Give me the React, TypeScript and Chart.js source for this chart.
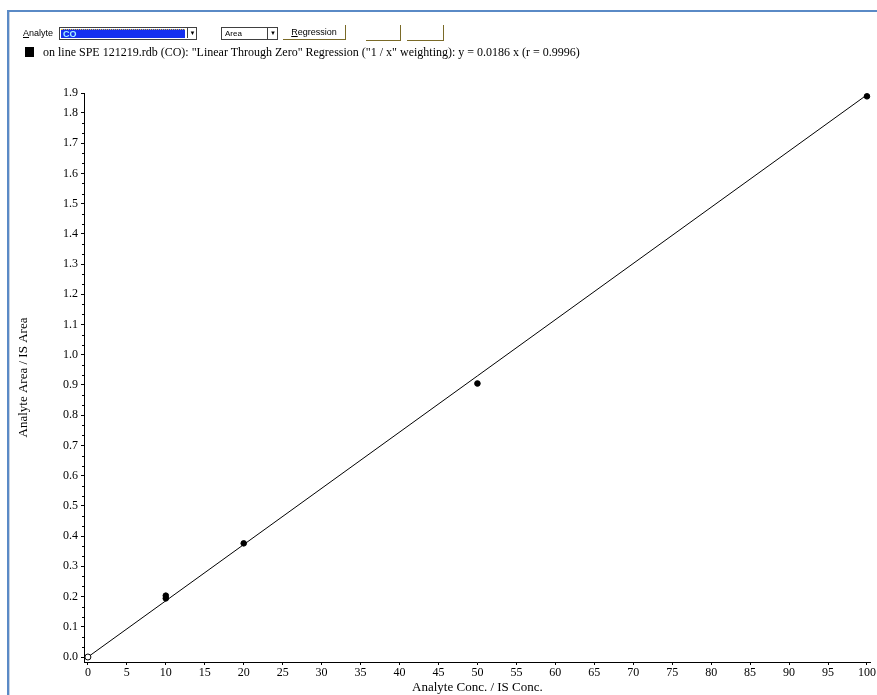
import React, { useEffect, useRef } from 'react';
import { Chart, registerables } from 'chart.js';

Chart.register(...registerables);

// Calibration points
const pointX = [10, 10, 20, 50, 100];
const pointY = [0.194, 0.203, 0.376, 0.905, 1.855];
// Blank / origin point (open marker)
const blankX = [0];
const blankY = [0];
// Regression line y = 0.0186 x
const fitX = [0, 100];
const fitY = [0, 1.86];

const xTicks = [0, 5, 10, 15, 20, 25, 30, 35, 40, 45, 50, 55, 60, 65, 70, 75, 80, 85, 90, 95, 100];
const yTicks = [0, 0.1, 0.2, 0.3, 0.4, 0.5, 0.6, 0.7, 0.8, 0.9, 1.0, 1.1, 1.2, 1.3, 1.4, 1.5, 1.6, 1.7, 1.8];
const yTopTickLabel = '1.9';

const X_MIN = -0.5;
const X_MAX = 100.5;
const Y_MIN = -0.0165;
const Y_MAX = 1.866;

const legendText =
  'on line SPE 121219.rdb (CO): "Linear Through Zero" Regression ("1 / x" weighting): y = 0.0186 x (r = 0.9996)';
const xTitle = 'Analyte Conc. / IS Conc.';
const yTitle = 'Analyte Area / IS Area';

const serif = '"Liberation Serif", "Times New Roman", serif';
const sans = '"Liberation Sans", Arial, sans-serif';

const minorTickPlugin = {
  id: 'minorTicks',
  afterDraw(chart: any) {
    const ys = chart.scales.y;
    const ctx = chart.ctx;
    ctx.save();
    ctx.strokeStyle = '#000';
    ctx.lineWidth = 1;
    for (let i = 0; i + 1 < yTicks.length; i++) {
      const a = yTicks[i];
      const b = yTicks[i + 1];
      for (let k = 1; k < 3; k++) {
        const v = a + ((b - a) * k) / 3;
        const py = Math.round(ys.getPixelForValue(v)) + 0.5;
        ctx.beginPath();
        ctx.moveTo(ys.right - 2, py);
        ctx.lineTo(ys.right, py);
        ctx.stroke();
      }
    }
    ctx.restore();
  },
};

function ChartCanvas() {
  const ref = useRef<HTMLCanvasElement | null>(null);
  useEffect(() => {
    if (!ref.current) return;
    const chart = new Chart(ref.current, {
      type: 'scatter',
      data: {
        datasets: [
          {
            label: 'fit',
            data: fitX.map((x, i) => ({ x, y: fitY[i] })),
            showLine: true,
            borderColor: '#000',
            borderWidth: 1,
            pointRadius: 0,
            order: 3,
          },
          {
            label: 'blank',
            data: blankX.map((x, i) => ({ x, y: blankY[i] })),
            pointRadius: 3,
            pointBackgroundColor: '#fff',
            pointBorderColor: '#000',
            pointBorderWidth: 1,
            order: 2,
          },
          {
            label: 'standards',
            data: pointX.map((x, i) => ({ x, y: pointY[i] })),
            pointRadius: 2.8,
            pointBackgroundColor: '#000',
            pointBorderColor: '#000',
            pointBorderWidth: 1,
            order: 1,
          },
        ],
      },
      options: {
        animation: false,
        responsive: false,
        maintainAspectRatio: false,
        events: [],
        layout: { padding: { left: 0, right: 5, top: 93, bottom: 0 } },
        plugins: {
          legend: { display: false },
          tooltip: { enabled: false },
        },
        scales: {
          x: {
            type: 'linear',
            min: X_MIN,
            max: X_MAX,
            afterBuildTicks: (scale: any) => {
              scale.ticks = xTicks.map((v) => ({ value: v }));
            },
            afterFit: (scale: any) => {
              scale.height = 33;
            },
            grid: { drawOnChartArea: false, drawTicks: true, tickLength: 3, color: '#000' },
            border: { display: true, color: '#000', width: 1 },
            ticks: {
              color: '#000',
              padding: 1,
              maxRotation: 0,
              autoSkip: false,
              font: { family: serif, size: 12 },
              callback: (v: any) => String(v),
            },
            title: {
              display: true,
              text: xTitle,
              color: '#000',
              font: { family: serif, size: 13 },
              padding: { top: 0, bottom: 0 },
            },
          },
          y: {
            type: 'linear',
            min: Y_MIN,
            max: Y_MAX,
            afterBuildTicks: (scale: any) => {
              scale.ticks = yTicks.map((v) => ({ value: v })).concat([{ value: Y_MAX }]);
            },
            afterFit: (scale: any) => {
              scale.width = 84;
            },
            grid: { drawOnChartArea: false, drawTicks: true, tickLength: 3, color: '#000' },
            border: { display: true, color: '#000', width: 1 },
            ticks: {
              color: '#000',
              padding: 3,
              autoSkip: false,
              font: { family: serif, size: 12 },
              callback: (v: any) => (Math.abs(v - Y_MAX) < 1e-9 ? yTopTickLabel : Number(v).toFixed(1)),
            },
            title: {
              display: true,
              text: yTitle,
              color: '#000',
              font: { family: serif, size: 13 },
              padding: { top: 16, bottom: 0 },
            },
          },
        },
      },
      plugins: [minorTickPlugin],
    } as any);
    return () => chart.destroy();
  }, []);
  return (
    <canvas
      ref={ref}
      width={877}
      height={695}
      style={{ position: 'absolute', left: 0, top: 0, width: 877, height: 695 }}
    />
  );
}

const btnEdge = '#7a6a28';

export default function App() {
  return (
    <div
      style={{
        position: 'absolute',
        left: 0,
        top: 0,
        width: 877,
        height: 695,
        background: '#fff',
        overflow: 'hidden',
      }}
    >
      <ChartCanvas />
      {/* window frame */}
      <div style={{ position: 'absolute', left: 7, top: 10, right: 0, height: 2, background: '#5a8ac6' }} />
      <div style={{ position: 'absolute', left: 7, top: 10, bottom: 0, width: 2, background: '#5a8ac6' }} />
      <div style={{ position: 'absolute', left: 9, top: 12, bottom: 0, width: 1, background: '#c8d2e0' }} />

      {/* toolbar */}
      <div style={{ position: 'absolute', left: 23, top: 28, fontFamily: sans, fontSize: 9, color: '#000', lineHeight: '10px' }}>
        <u>A</u>nalyte
      </div>
      <div
        style={{
          position: 'absolute',
          left: 59,
          top: 27,
          width: 136,
          height: 11,
          border: '1px solid #404040',
          background: '#fff',
        }}
      >
        <div
          style={{
            position: 'absolute',
            left: 1,
            top: 1,
            width: 124,
            height: 9,
            background: '#1530f0',
            borderTop: '1px dotted #e0c040',
            boxSizing: 'border-box',
            fontFamily: sans,
            fontSize: 9,
            lineHeight: '8px',
            fontWeight: 'bold',
            color: '#a8f0ff',
            paddingLeft: 2,
          }}
        >
          CO
        </div>
        <div
          style={{
            position: 'absolute',
            left: 127,
            top: 0,
            width: 9,
            height: 10,
            borderLeft: '1px solid #404040',
            fontSize: 6,
            lineHeight: '10px',
            textAlign: 'center',
            fontFamily: sans,
          }}
        >
          ▼
        </div>
      </div>
      <div
        style={{
          position: 'absolute',
          left: 221,
          top: 27,
          width: 55,
          height: 11,
          border: '1px solid #404040',
          background: '#fff',
        }}
      >
        <div style={{ position: 'absolute', left: 3, top: 1, fontFamily: sans, fontSize: 8, lineHeight: '9px' }}>Area</div>
        <div
          style={{
            position: 'absolute',
            left: 45,
            top: 0,
            width: 10,
            height: 11,
            borderLeft: '1px solid #404040',
            fontSize: 6,
            lineHeight: '11px',
            textAlign: 'center',
            fontFamily: sans,
          }}
        >
          ▼
        </div>
      </div>
      <div
        style={{
          position: 'absolute',
          left: 283,
          top: 25,
          width: 62,
          height: 14,
          borderRight: `1px solid ${btnEdge}`,
          borderBottom: `1px solid ${btnEdge}`,
          fontFamily: sans,
          fontSize: 9,
          lineHeight: '14px',
          textAlign: 'center',
        }}
      >
        <u>R</u>egression
      </div>
      <div
        style={{
          position: 'absolute',
          left: 366,
          top: 25,
          width: 34,
          height: 15,
          borderRight: `1px solid ${btnEdge}`,
          borderBottom: `1px solid ${btnEdge}`,
        }}
      />
      <div
        style={{
          position: 'absolute',
          left: 407,
          top: 25,
          width: 36,
          height: 15,
          borderRight: `1px solid ${btnEdge}`,
          borderBottom: `1px solid ${btnEdge}`,
        }}
      />

      {/* legend */}
      <div style={{ position: 'absolute', left: 25, top: 47, width: 9, height: 10, background: '#000' }} />
      <div
        style={{
          position: 'absolute',
          left: 43,
          top: 45,
          fontFamily: serif,
          fontSize: 12,
          lineHeight: '15px',
          color: '#000',
          whiteSpace: 'nowrap',
        }}
      >
        {legendText}
      </div>
    </div>
  );
}
